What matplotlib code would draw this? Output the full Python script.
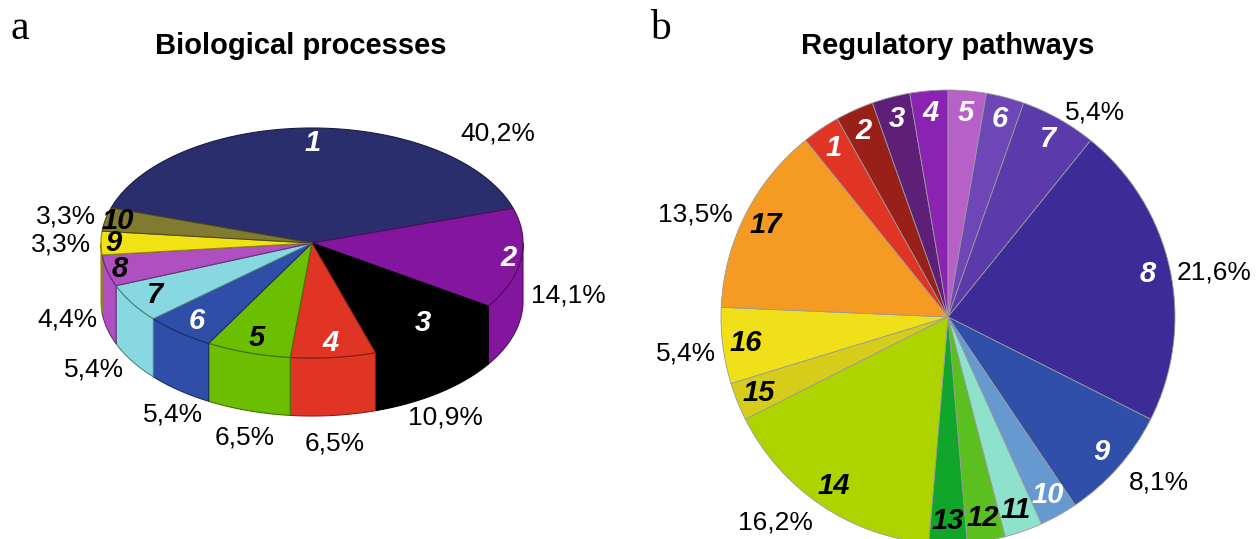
import numpy as np
import matplotlib.pyplot as plt
from matplotlib.patches import Polygon
from matplotlib.colors import to_rgb

plt.rcParams['font.family'] = ['Liberation Sans', 'DejaVu Sans']

# a: biological processes (3D pie)
bio_labels = ['1', '2', '3', '4', '5', '6', '7', '8', '9', '10']
bio_values = [40.2, 14.1, 10.9, 6.5, 6.5, 5.4, 5.4, 4.4, 3.3, 3.3]
bio_pct = ['40,2%', '14,1%', '10,9%', '6,5%', '6,5%', '5,4%', '5,4%', '4,4%', '3,3%', '3,3%']
bio_colors = ['#2b2e6c', '#84159f', '#000000', '#e03525', '#6cbf00',
              '#2e4ea8', '#88d8e2', '#b04fc0', '#f0e214', '#807b30']
bio_text = ['white', 'white', 'white', 'white', 'black',
            'white', 'black', 'black', 'black', 'black']

# b: regulatory pathways (flat pie), counts of pathways
reg_labels = [str(i) for i in range(1, 18)]
reg_values = [1, 1, 1, 1, 1, 1, 2, 8, 3, 1, 1, 1, 1, 6, 1, 2, 5]
reg_pct = {7: '5,4%', 8: '21,6%', 9: '8,1%', 14: '16,2%', 16: '5,4%', 17: '13,5%'}
reg_colors = ['#e03525', '#982019', '#5e1f78', '#8a22b2', '#b660c8', '#6e46b6',
              '#5b3aaa', '#3d2c97', '#2f4fa8', '#6699d0', '#8ee2cc', '#5bbf20',
              '#12a52c', '#aed400', '#d6cc1c', '#f0e01a', '#f59a22']
reg_text = ['white'] * 10 + ['black'] * 7

W, H = 1258, 539
fig = plt.figure(figsize=(W / 100, H / 100), dpi=100)
ax = fig.add_axes([0, 0, 1, 1])

NUM_FS = 21
PCT_FS = 19


def Y(y):
    return H - y


def darker(c, f=0.6):
    return tuple(v * f for v in to_rgb(c))


# ---- left: 3D pie drawn by hand
cx, cy = 312, Y(243)
rx, ry, depth = 211, 115, 58
start = 162.2
edges = start - np.concatenate([[0], np.cumsum(bio_values)]) / sum(bio_values) * 360
# the big slice's percentage sits up to the right, not at mid-angle
pct_angle = {0: 48}


def arc(t0, t1, n=60):
    t = np.radians(np.linspace(t0, t1, n))
    return np.column_stack([cx + rx * np.cos(t), cy + ry * np.sin(t)])


for i in range(len(bio_values)):
    t0, t1 = edges[i], edges[i + 1]
    col = bio_colors[i]
    # visible side wall: angles in [-180, 0]
    a0, a1 = min(t0, 0), max(t1, -180)
    if a0 > a1:
        top = arc(a0, a1)
        bot = top[::-1] - [0, depth]
        ax.add_patch(Polygon(np.vstack([top, bot]), closed=True, facecolor=col,
                             edgecolor=darker(col), linewidth=0.8, zorder=1))
    pts = np.vstack([[cx, cy], arc(t0, t1)])
    ax.add_patch(Polygon(pts, closed=True, facecolor=col,
                         edgecolor=darker(col), linewidth=0.8, zorder=2))

    m = np.radians((t0 + t1) / 2)
    c, s = np.cos(m), np.sin(m)
    k = 0.87 if abs(c) < 0.95 else 0.94
    ax.text(cx + k * rx * c, cy + k * ry * s, bio_labels[i], color=bio_text[i],
            fontsize=NUM_FS, fontweight='bold', fontstyle='italic',
            ha='center', va='center', zorder=3)

    m = np.radians(pct_angle.get(i, (t0 + t1) / 2))
    c, s = np.cos(m), np.sin(m)
    drop = depth * min(1.0, np.sqrt(max(0, -s) / 0.4))
    px = cx + rx * c + 10 * c
    py = cy + ry * s - drop + 16 * s
    if c > 0.7:
        ha, va = 'left', 'center'
    elif c < -0.7:
        ha, va = 'right', 'center'
    elif i in pct_angle:
        ha, va = 'left', 'bottom'
    else:
        ha, va = 'center', ('top' if s < 0 else 'bottom')
    ax.text(px, py, bio_pct[i], fontsize=PCT_FS, ha=ha, va=va, zorder=3)

ax.text(301, Y(46), 'Biological processes', fontsize=21, fontweight='bold',
        ha='center', va='center')
ax.text(11, Y(29), 'a', fontsize=30, family='Liberation Serif', ha='left', va='center')

# ---- right: flat pie
rcx, rcy, rr = 948, Y(317), 227
wedges, _ = ax.pie(reg_values, colors=reg_colors, startangle=128.9, counterclock=False,
                   center=(rcx, rcy), radius=rr, frame=True,
                   wedgeprops=dict(edgecolor='#9a9a9a', linewidth=0.6))
for i, w in enumerate(wedges):
    m = np.radians((w.theta1 + w.theta2) / 2)
    c, s = np.cos(m), np.sin(m)
    ax.text(rcx + 0.9 * rr * c, rcy + 0.9 * rr * s, reg_labels[i], color=reg_text[i],
            fontsize=NUM_FS, fontweight='bold', fontstyle='italic', ha='center', va='center')
    if i + 1 in reg_pct:
        kp = 1.06 if abs(c) < 0.9 else 1.03
        ax.text(rcx + kp * rr * c, rcy + 1.06 * rr * s - 6, reg_pct[i + 1],
                fontsize=PCT_FS, ha='left' if c > 0 else 'right', va='center')

ax.text(948, Y(46), 'Regulatory pathways', fontsize=21, fontweight='bold',
        ha='center', va='center')
ax.text(650, Y(29), 'b', fontsize=30, family='Liberation Serif', ha='left', va='center')

ax.set_xlim(0, W)
ax.set_ylim(0, H)
ax.set_aspect('auto')
ax.axis('off')

fig.savefig('out.png', dpi=100)
